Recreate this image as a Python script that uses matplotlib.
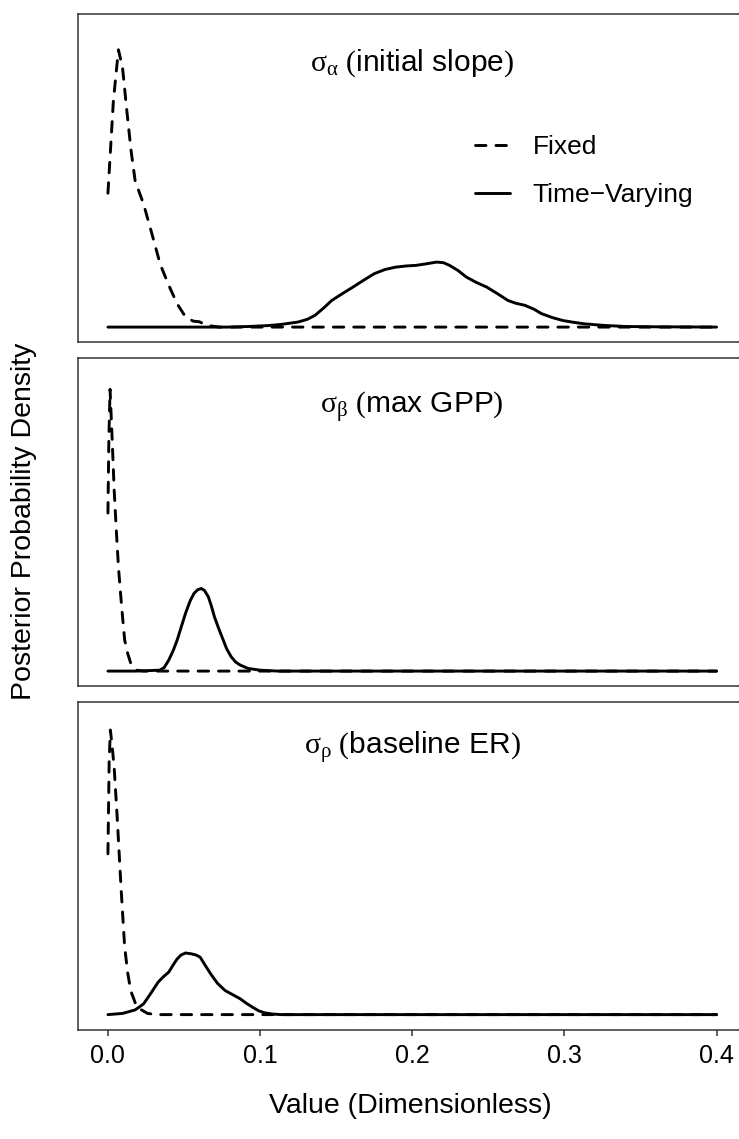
import matplotlib
matplotlib.use("Agg")
import matplotlib.pyplot as plt

plt.rcParams['font.family'] = ['Liberation Sans', 'DejaVu Sans']
plt.rcParams['mathtext.fontset'] = 'custom'
plt.rcParams['mathtext.rm'] = 'Liberation Serif'
plt.rcParams['mathtext.it'] = 'Liberation Serif'
plt.rcParams['mathtext.bf'] = 'Liberation Serif:bold'

# ---- data (relative posterior density) ----
x_ticks = [0.0, 0.1, 0.2, 0.3, 0.4]
x_tick_labels = ["0.0", "0.1", "0.2", "0.3", "0.4"]
series_names = ["Fixed", "Time\u2212Varying"]
panel_titles = [r"$\sigma_{\alpha}\ ($initial slope$)$",
                r"$\sigma_{\beta}\ ($max GPP$)$",
                r"$\sigma_{\rho}\ ($baseline ER$)$"]

alpha_fixed_x = [0, 0.0036, 0.0069, 0.0096, 0.0124, 0.0152, 0.0179, 0.0234, 0.0289,
                 0.0344, 0.040, 0.0455, 0.051, 0.056, 0.060, 0.065, 0.073, 0.4]
alpha_fixed_y = [0.449, 0.76, 0.93, 0.87, 0.726, 0.592, 0.49, 0.413, 0.313,
                 0.21, 0.14, 0.078, 0.034, 0.02, 0.018, 0.006, 0.0, 0.0]
alpha_tv_x = [0, 0.0785, 0.0923, 0.105, 0.114, 0.125, 0.131, 0.136, 0.142, 0.147,
              0.154, 0.161, 0.168, 0.175, 0.182, 0.189, 0.196, 0.2025, 0.209, 0.216,
              0.2205, 0.2245, 0.23, 0.2355, 0.242, 0.249, 0.256, 0.263, 0.268, 0.274,
              0.28, 0.285, 0.292, 0.299, 0.306, 0.313, 0.325, 0.340, 0.36, 0.4]
alpha_tv_y = [0, 0, 0.002, 0.005, 0.009, 0.017, 0.026, 0.039, 0.065, 0.089,
              0.112, 0.134, 0.157, 0.179, 0.193, 0.201, 0.205, 0.207, 0.212, 0.218,
              0.216, 0.207, 0.19, 0.168, 0.15, 0.134, 0.112, 0.089, 0.08, 0.073,
              0.06, 0.045, 0.032, 0.022, 0.016, 0.011, 0.006, 0.002, 0.001, 0]

beta_fixed_x = [0, 0.0006, 0.0014, 0.0028, 0.0041, 0.0055, 0.0069, 0.0083, 0.0096,
                0.011, 0.013, 0.015, 0.019, 0.023, 0.4]
beta_fixed_y = [0.53, 0.775, 0.945, 0.775, 0.607, 0.473, 0.35, 0.26, 0.182,
                0.104, 0.059, 0.026, 0.003, 0.0, 0.0]
beta_tv_x = [0, 0.018, 0.034, 0.037, 0.040, 0.043, 0.0455, 0.048, 0.051, 0.054,
             0.0565, 0.059, 0.0614, 0.0635, 0.066, 0.068, 0.070, 0.073, 0.0758,
             0.078, 0.081, 0.084, 0.087, 0.092, 0.1, 0.112, 0.4]
beta_tv_y = [0, 0, 0.003, 0.012, 0.037, 0.07, 0.104, 0.145, 0.194, 0.235,
             0.26, 0.273, 0.277, 0.270, 0.249, 0.218, 0.182, 0.14, 0.104,
             0.075, 0.048, 0.03, 0.02, 0.009, 0.003, 0, 0]

rho_fixed_x = [0, 0.0008, 0.0016, 0.0028, 0.0041, 0.006, 0.0074, 0.0088, 0.011,
               0.013, 0.015, 0.019, 0.026, 0.032, 0.4]
rho_fixed_y = [0.54, 0.85, 0.956, 0.9, 0.83, 0.67, 0.54, 0.41, 0.227,
               0.14, 0.08, 0.025, 0.004, 0.0, 0.0]
rho_tv_x = [0, 0.0096, 0.018, 0.0234, 0.028, 0.033, 0.036, 0.040, 0.043, 0.0455,
            0.048, 0.051, 0.055, 0.058, 0.0606, 0.064, 0.0675, 0.072, 0.077, 0.082,
            0.087, 0.091, 0.095, 0.099, 0.103, 0.108, 0.114, 0.4]
rho_tv_y = [0, 0.004, 0.016, 0.036, 0.07, 0.109, 0.125, 0.143, 0.168, 0.187,
            0.2, 0.207, 0.204, 0.2, 0.193, 0.165, 0.137, 0.105, 0.081, 0.067,
            0.053, 0.038, 0.025, 0.013, 0.006, 0.002, 0, 0]

panels = [
    (alpha_fixed_x, alpha_fixed_y, alpha_tv_x, alpha_tv_y),
    (beta_fixed_x, beta_fixed_y, beta_tv_x, beta_tv_y),
    (rho_fixed_x, rho_fixed_y, rho_tv_x, rho_tv_y),
]

# ---- layout ----
W, H = 739, 1139
fig = plt.figure(figsize=(W / 100, H / 100), dpi=100)

left_px, right_px = 77.5, 747.0
panel_px = [(14, 342), (358, 686), (702, 1029.5)]
title_y = [0.850, 0.848, 0.859]
frame_col = "#333333"
lw = 2.1
dash = (0, (3.6, 3.4))

handles = []
for i, ((top, bot), (fx, fy, tx, ty)) in enumerate(zip(panel_px, panels)):
    ax = fig.add_axes([left_px / W, (H - bot) / H, (right_px - left_px) / W, (bot - top) / H])
    lf, = ax.plot(fx, fy, color="black", lw=lw, linestyle=dash,
                  dash_capstyle="round", solid_capstyle="round", label=series_names[0])
    lt, = ax.plot(tx, ty, color="black", lw=lw, linestyle="-",
                  solid_capstyle="round", solid_joinstyle="round", label=series_names[1])
    ax.set_xlim(-0.02, 0.42)
    ax.set_ylim(-0.05, 1.05)
    ax.set_yticks([])
    for s in ax.spines.values():
        s.set_color(frame_col)
        s.set_linewidth(1.1)
    ax.text(0.2, title_y[i], panel_titles[i], transform=ax.get_xaxis_transform(),
            ha="center", va="center", fontsize=21.5)
    if i < 2:
        ax.set_xticks([])
    else:
        ax.set_xticks(x_ticks)
        ax.set_xticklabels(x_tick_labels)
        ax.tick_params(axis="x", length=4.5, width=1.1, color=frame_col,
                       labelsize=18, pad=6, labelcolor="black")
    if i == 0:
        handles = [lf, lt]

leg = fig.legend(handles=handles, labels=series_names, loc="upper left",
                 bbox_to_anchor=(475 / W, (H - 135) / H), frameon=False,
                 fontsize=19, handlelength=1.33, handletextpad=0.85,
                 labelspacing=0.92, borderpad=0, borderaxespad=0)

fig.text(410 / W, (H - 1113) / H, "Value (Dimensionless)", ha="center",
         va="baseline", fontsize=20.5)
fig.text(24 / W, (H - 521) / H, "Posterior Probability Density", rotation=90,
         ha="center", va="center", fontsize=20.5)

fig.savefig("out.png", dpi=100)
